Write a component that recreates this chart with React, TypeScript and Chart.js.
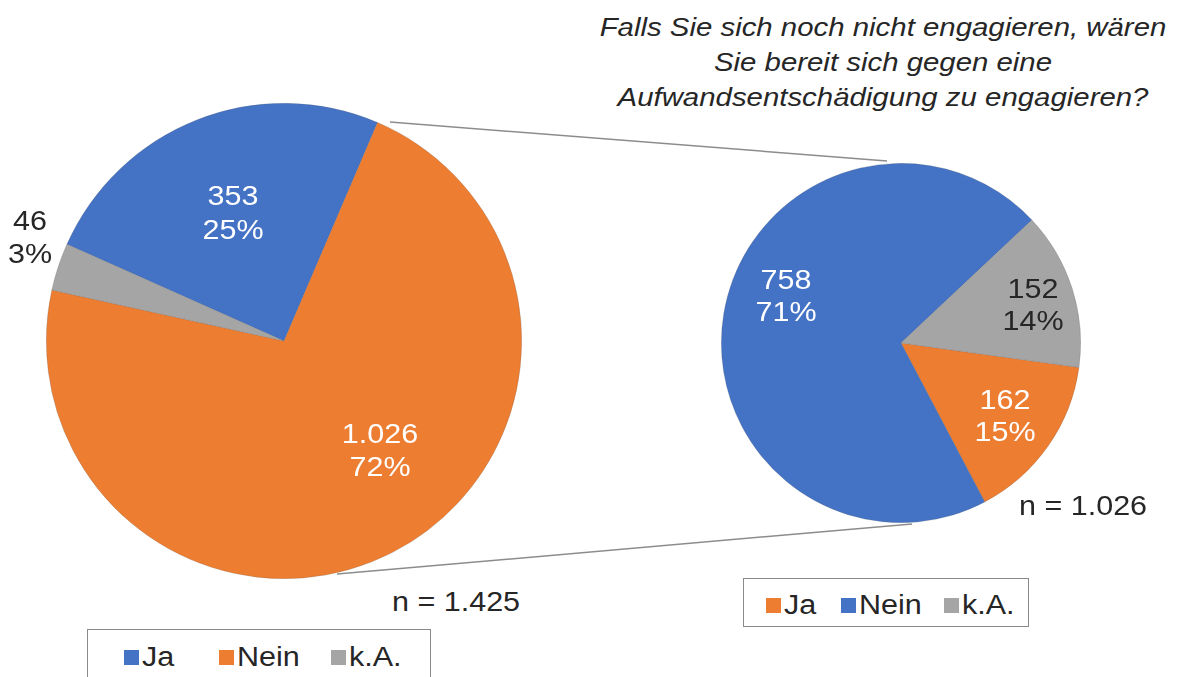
import React, { useEffect, useRef } from "react";
import { Chart, registerables } from "chart.js";

Chart.register(...registerables);

// ---- data ----
const leftCategories = ["Ja", "Nein", "k.A."];
const leftValues = [353, 1026, 46];
const leftN = "n = 1.425";

const rightCategories = ["Ja", "Nein", "k.A."];
const rightValues = [162, 758, 152];
const rightN = "n = 1.026";

const titleLines = [
  "Falls Sie sich noch nicht engagieren, wären",
  "Sie bereit sich gegen eine",
  "Aufwandsentschädigung zu engagieren?",
];

const BLUE = "#4472C4";
const ORANGE = "#ED7D31";
const GRAY = "#A5A5A5";
const leftColors = [BLUE, ORANGE, GRAY];
const rightColors = [ORANGE, BLUE, GRAY];

const FONT = '"Liberation Sans", Arial, sans-serif';
const TEXT = "#262626";
const SX = 1.13;

function fmt(v: number) {
  const s = String(v);
  return s.length > 3 ? s.slice(0, s.length - 3) + "." + s.slice(-3) : s;
}
function pct(v: number, arr: number[]) {
  const t = arr.reduce((a, b) => a + b, 0);
  return Math.round((v / t) * 100) + "%";
}

function PieCanvas(props: {
  labels: string[];
  values: number[];
  colors: string[];
  rotation: number;
  left: number;
  top: number;
  size: number;
}) {
  const ref = useRef<HTMLCanvasElement>(null);
  useEffect(() => {
    if (!ref.current) return;
    const chart = new Chart(ref.current, {
      type: "pie",
      data: {
        labels: props.labels,
        datasets: [
          {
            data: props.values,
            backgroundColor: props.colors,
            borderWidth: 0.6,
            borderColor: "rgba(90,90,90,0.35)",
            hoverOffset: 0,
          },
        ],
      },
      options: {
        animation: false,
        responsive: false,
        rotation: props.rotation,
        layout: { padding: 0 },
        events: [],
        plugins: {
          legend: { display: false },
          tooltip: { enabled: false },
          title: { display: false },
        },
      },
    });
    return () => chart.destroy();
  }, []);
  return (
    <canvas
      ref={ref}
      width={props.size}
      height={props.size}
      style={{
        position: "absolute",
        left: props.left,
        top: props.top,
        width: props.size,
        height: props.size,
      }}
    />
  );
}

function Label(props: { x: number; y1: number; y2: number; l1: string; l2: string; color: string }) {
  const base: React.CSSProperties = {
    position: "absolute",
    width: 200,
    marginLeft: -100,
    textAlign: "center",
    fontFamily: FONT,
    fontSize: 27,
    lineHeight: "30px",
    color: props.color,
    whiteSpace: "nowrap",
    transform: `scaleX(${SX})`,
    transformOrigin: "center",
  };
  return (
    <>
      <div style={{ ...base, left: props.x, top: props.y1 - 15 }}>{props.l1}</div>
      <div style={{ ...base, left: props.x, top: props.y2 - 15 }}>{props.l2}</div>
    </>
  );
}

function Legend(props: {
  labels: string[];
  colors: string[];
  left: number;
  top: number;
  width: number;
  height: number;
  items: number[];
  cy: number;
}) {
  return (
    <div
      style={{
        position: "absolute",
        left: props.left,
        top: props.top,
        width: props.width,
        height: props.height,
        border: "1.5px solid #8a8a8a",
        boxSizing: "border-box",
        background: "#fff",
      }}
    >
      {props.labels.map((l, i) => (
        <div
          key={l}
          style={{
            position: "absolute",
            left: props.items[i] - props.left,
            top: props.cy - props.top - 15,
            height: 30,
            display: "flex",
            alignItems: "center",
            fontFamily: FONT,
            fontSize: 27,
            color: TEXT,
            whiteSpace: "nowrap",
          }}
        >
          <span
            style={{
              display: "inline-block",
              width: 15,
              height: 15,
              background: props.colors[i],
              marginRight: 3,
            }}
          />
          <span style={{ display: "inline-block", transform: `scaleX(${SX})`, transformOrigin: "left center" }}>
            {l}
          </span>
        </div>
      ))}
    </div>
  );
}

export default function App() {
  const LC = { x: 284, y: 341, r: 238 };
  const RC = { x: 901, y: 343, r: 180 };
  const nStyle: React.CSSProperties = {
    position: "absolute",
    height: 30,
    lineHeight: "30px",
    fontFamily: FONT,
    fontSize: 27,
    color: TEXT,
    whiteSpace: "nowrap",
    transform: `scaleX(${SX})`,
    transformOrigin: "left center",
  };
  return (
    <div
      style={{
        position: "fixed",
        left: 0,
        top: 0,
        width: 1180,
        height: 677,
        background: "#fff",
        overflow: "hidden",
      }}
    >
      {titleLines.map((t, i) => (
        <div
          key={i}
          style={{
            position: "absolute",
            left: 883 - 400,
            width: 800,
            top: 27 + i * 35 - 16,
            height: 32,
            lineHeight: "32px",
            textAlign: "center",
            fontFamily: FONT,
            fontStyle: "italic",
            fontSize: 26,
            color: TEXT,
            whiteSpace: "nowrap",
            transform: `scaleX(${SX})`,
            transformOrigin: "center",
          }}
        >
          {t}
        </div>
      ))}

      <svg
        width={1180}
        height={677}
        style={{ position: "absolute", left: 0, top: 0 }}
      >
        <line x1={390} y1={122} x2={887} y2={161} stroke="#8c8c8c" strokeWidth={1.5} />
        <line x1={337} y1={574} x2={912} y2={524} stroke="#8c8c8c" strokeWidth={1.5} />
      </svg>

      <PieCanvas
        labels={leftCategories}
        values={leftValues}
        colors={leftColors}
        rotation={-66}
        left={LC.x - LC.r}
        top={LC.y - LC.r}
        size={LC.r * 2}
      />
      <PieCanvas
        labels={rightCategories}
        values={rightValues}
        colors={rightColors}
        rotation={97.8}
        left={RC.x - RC.r}
        top={RC.y - RC.r}
        size={RC.r * 2}
      />

      <Label x={233} y1={196} y2={230} l1={fmt(leftValues[0])} l2={pct(leftValues[0], leftValues)} color="#fff" />
      <Label x={380} y1={434} y2={467} l1={fmt(leftValues[1])} l2={pct(leftValues[1], leftValues)} color="#fff" />
      <Label x={30} y1={221} y2={254} l1={fmt(leftValues[2])} l2={pct(leftValues[2], leftValues)} color={TEXT} />

      <Label x={1005} y1={400} y2={432} l1={fmt(rightValues[0])} l2={pct(rightValues[0], rightValues)} color="#fff" />
      <Label x={786} y1={280} y2={312} l1={fmt(rightValues[1])} l2={pct(rightValues[1], rightValues)} color="#fff" />
      <Label x={1033} y1={289} y2={321} l1={fmt(rightValues[2])} l2={pct(rightValues[2], rightValues)} color={TEXT} />

      <div style={{ ...nStyle, left: 392, top: 602 - 15 }}>{leftN}</div>
      <div style={{ ...nStyle, left: 1019, top: 506 - 15 }}>{rightN}</div>

      <Legend
        labels={leftCategories}
        colors={leftColors}
        left={87}
        top={629}
        width={344}
        height={70}
        items={[123, 218, 330]}
        cy={656}
      />
      <Legend
        labels={rightCategories}
        colors={rightColors}
        left={743}
        top={578}
        width={286}
        height={49}
        items={[765, 840, 943]}
        cy={604}
      />
    </div>
  );
}
